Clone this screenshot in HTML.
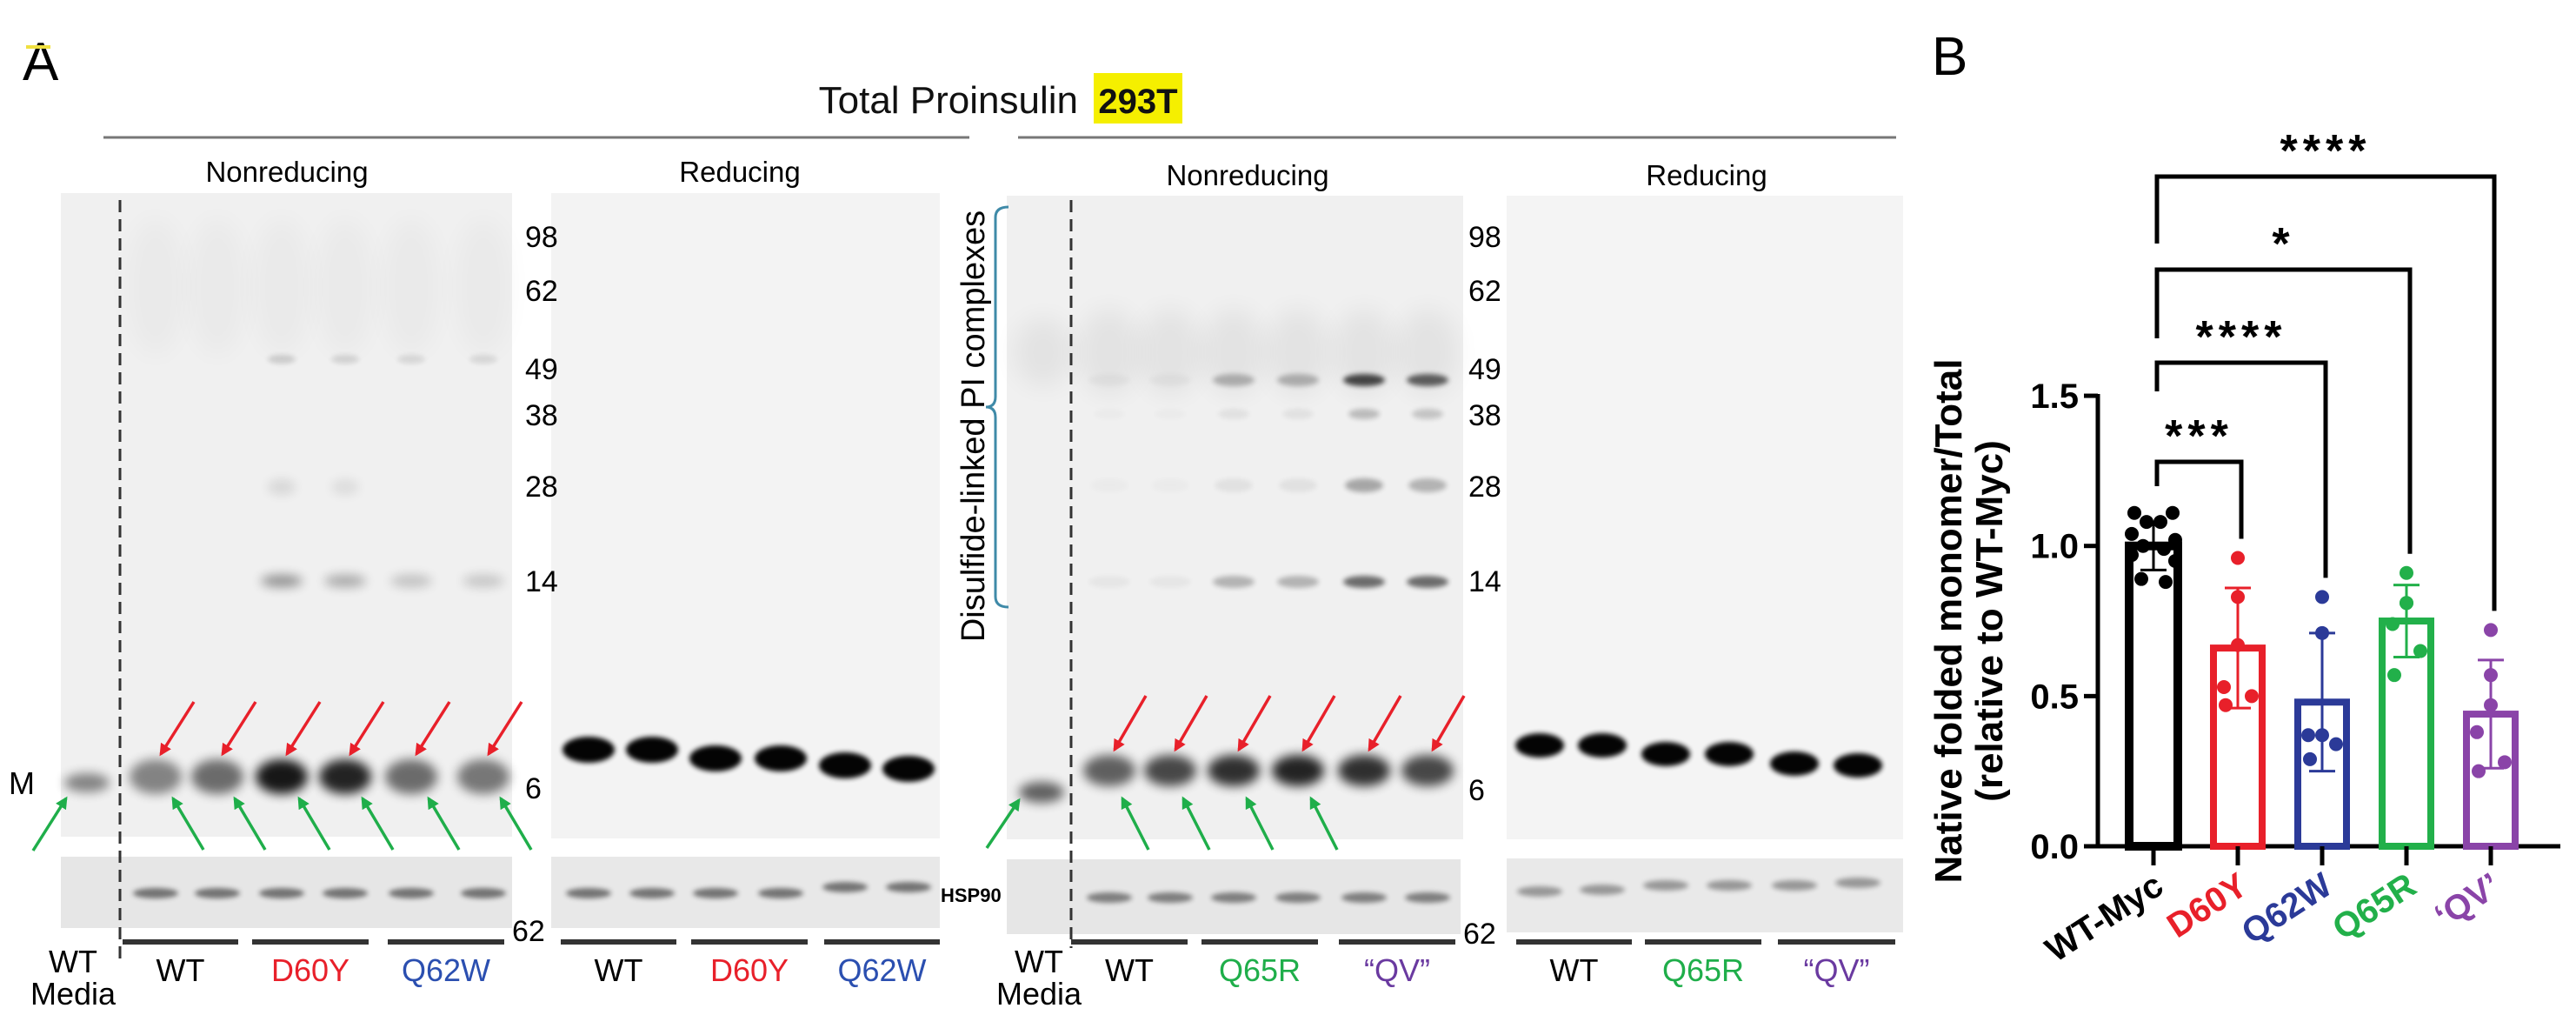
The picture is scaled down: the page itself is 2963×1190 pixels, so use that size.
<!DOCTYPE html>
<html><head><meta charset="utf-8">
<style>
html,body{margin:0;padding:0;background:#fff;}
body{width:2963px;height:1185px;overflow:hidden;position:relative;font-family:"Liberation Sans",Arial,sans-serif;}
svg text{font-family:"Liberation Sans",Arial,sans-serif;}
</style></head>
<body>
<svg id="fig" width="2963" height="1185" viewBox="0 0 2963 1185" xmlns="http://www.w3.org/2000/svg">
<defs>
  <filter id="b6" x="-50%" y="-100%" width="200%" height="300%"><feGaussianBlur stdDeviation="6"/></filter>
  <filter id="b3" x="-50%" y="-100%" width="200%" height="300%"><feGaussianBlur stdDeviation="3"/></filter>
  <filter id="b12" x="-50%" y="-50%" width="200%" height="200%"><feGaussianBlur stdDeviation="14"/></filter>
  <marker id="ar" viewBox="0 0 10 10" refX="8" refY="5" markerWidth="4" markerHeight="4" orient="auto"><path d="M0,0 L10,5 L0,10 z" fill="#e8202a"/></marker>
  <marker id="ag" viewBox="0 0 10 10" refX="8" refY="5" markerWidth="4" markerHeight="4" orient="auto"><path d="M0,0 L10,5 L0,10 z" fill="#1fae4a"/></marker>
</defs>

<text x="26" y="92" font-size="62" fill="#000">A</text>
<rect x="30" y="52" width="28" height="4" fill="#f0e040"/>
<text x="1240" y="130" font-size="44" text-anchor="end" fill="#111">Total Proinsulin</text>
<rect x="1258" y="84" width="102" height="58" fill="#f5ef00"/>
<text x="1309" y="130" font-size="40" font-weight="bold" text-anchor="middle" fill="#111">293T</text>
<line x1="119" y1="158" x2="1115" y2="158" stroke="#777" stroke-width="3"/>
<line x1="1171" y1="158" x2="2181" y2="158" stroke="#777" stroke-width="3"/>
<text x="330" y="209" font-size="33" text-anchor="middle">Nonreducing</text>
<text x="851" y="209" font-size="33" text-anchor="middle">Reducing</text>
<text x="1435" y="213" font-size="33" text-anchor="middle">Nonreducing</text>
<text x="1963" y="213" font-size="33" text-anchor="middle">Reducing</text>

<g id="blots"></g>

<path d="M1160,238 Q1145,238 1145,250 L1145,456 Q1145,468 1134,468 Q1145,468 1145,480 L1145,686 Q1145,698 1160,698" fill="none" stroke="#3f8aa8" stroke-width="3"/>
<text transform="translate(1132,490) rotate(-90)" font-size="38" text-anchor="middle">Disulfide-linked PI complexes</text>

<text x="2222" y="86" font-size="62" fill="#000">B</text>
<g id="chart"></g>
</svg>

<script>
const categories = ["WT-Myc","D60Y","Q62W","Q65R","\u2018QV\u2019"];
const barMeans = [1.00, 0.66, 0.48, 0.75, 0.44];
const barErr = [0.08, 0.20, 0.23, 0.12, 0.18];
const pointsWT = [1.11,1.11,1.08,1.08,1.04,1.02,1.00,0.99,0.97,0.95,0.89,0.88];
const pointsD60Y = [0.96,0.83,0.67,0.53,0.50,0.47];
const pointsQ62W = [0.83,0.71,0.37,0.37,0.34,0.29];
const pointsQ65R = [0.91,0.81,0.81,0.74,0.65,0.57];
const pointsQV = [0.72,0.57,0.47,0.38,0.28,0.25];
const yTicks = [0.0,0.5,1.0,1.5];
const yTickLabels = ["0.0","0.5","1.0","1.5"];
const sigLabels = ["***","****","*","****"];
const sigTargets = [1,2,3,4];

const colors = ["#000000","#e8202a","#2b3a98","#22b04a","#8a44a8"];
const allPoints = [pointsWT,pointsD60Y,pointsQ62W,pointsQ65R,pointsQV];
const NS="http://www.w3.org/2000/svg";
function mk(tag, attrs, parent){const e=document.createElementNS(NS,tag);for(const k in attrs)e.setAttribute(k,attrs[k]);parent.appendChild(e);return e;}

const axX0=2413, axX1=2945, y0px=973, pxPerUnit=345.3;
function yScale(v){return y0px - v*pxPerUnit;}
function xScale(i){return 2477 + i*97;}
const chart=document.getElementById('chart');

let el=mk('line',{x1:axX0,y1:yScale(1.5)-2,x2:axX0,y2:y0px+2,stroke:'#000','stroke-width':5},chart);


yTicks.forEach((t,i)=>{
  let tk=mk('line',{x1:axX0-16,y1:yScale(t),x2:axX0,y2:yScale(t),stroke:'#000','stroke-width':5},chart);
  
  
  let tl=mk('text',{x:axX0-22,y:yScale(t)+14,'font-size':40,'font-weight':'bold','text-anchor':'end'},chart);
  tl.textContent=yTickLabels[i];
  
  
});
el=mk('line',{x1:axX0-2,y1:y0px,x2:axX1,y2:y0px,stroke:'#000','stroke-width':5},chart);


let yt=mk('text',{transform:'translate(2256,714) rotate(-90)','font-size':44,'font-weight':'bold','text-anchor':'middle'},chart);
yt.textContent='Native folded monomer/Total';


let yt2=mk('text',{transform:'translate(2303,714) rotate(-90)','font-size':44,'font-weight':'bold','text-anchor':'middle'},chart);
yt2.textContent='(relative to WT-Myc)';



const bw=56;
categories.forEach((c,i)=>{
  const cx=xScale(i), col=colors[i];
  let b=mk('rect',{x:cx-bw/2,y:yScale(barMeans[i]),width:bw,height:y0px-yScale(barMeans[i]),fill:'#fff',stroke:col,'stroke-width':i==0?10:8},chart);
  
  
  let tk=mk('line',{x1:cx,y1:y0px,x2:cx,y2:y0px+22,stroke:'#000','stroke-width':5},chart);
  
  
  let lb=mk('text',{transform:`translate(${cx+14},${y0px+52}) rotate(-33)`,'font-size':40,'font-weight':'bold','text-anchor':'end',fill:col},chart);
  lb.textContent=c;
  
  
  const hi=yScale(barMeans[i]+barErr[i]), lo=yScale(barMeans[i]-barErr[i]);
  let eb=mk('path',{d:`M${cx},${hi}L${cx},${lo}M${cx-15},${hi}L${cx+15},${hi}M${cx-15},${lo}L${cx+15},${lo}`,stroke:col,'stroke-width':3,fill:'none'},chart);
  
  
  const pts=allPoints[i];
  const offs=i==0?[-22,22,-8,8,-25,25,-12,12,-25,25,-14,14]:[0,0,0,-16,16,-14];
  pts.forEach((v,j)=>{
    let p=mk('circle',{cx:cx+offs[j%offs.length],cy:yScale(v),r:8,fill:col},chart);
    
    
  });
});
const bracketLevels=[531,417,310,203];
sigTargets.forEach((t,k)=>{
  const x1=xScale(0)+4, x2=xScale(t)+4, ly=bracketLevels[k];
  const tgtTop=yScale(Math.max(...allPoints[t]))-22;
  const leftEnd=[559,450,389,280][k];
  let br=mk('path',{d:`M${x1},${leftEnd}L${x1},${ly}L${x2},${ly}L${x2},${tgtTop}`,stroke:'#000','stroke-width':5,fill:'none'},chart);
  
  
  let st=mk('text',{x:(x1+x2)/2,y:ly-12,'font-size':52,'font-weight':'bold','text-anchor':'middle','letter-spacing':'6'},chart);
  st.textContent=sigLabels[k];
  
  
});

const g=document.getElementById('blots');
function rect(x,y,w,h,fill,name){let r=mk('rect',{x:x,y:y,width:w,height:h,fill:fill},g);return r;}
rect(70,222,519,740,'#f0f0f0','gel-nonreducing-1');
rect(634,222,447,742,'#f3f3f3','gel-reducing-1');
rect(1158,225,525,740,'#f0f0f0','gel-nonreducing-2');
rect(1733,225,456,740,'#f4f4f4','gel-reducing-2');
rect(70,985,519,82,'#e6e6e6','hsp90-strip-1');
rect(634,985,447,82,'#e8e8e8','hsp90-strip-2');
rect(1158,988,522,86,'#e6e6e6','hsp90-strip-3');
rect(1733,987,456,85,'#e9e9e9','hsp90-strip-4');

function band(cx,cy,rx,ry,op,f,name){let e=mk('ellipse',{cx:cx,cy:cy,rx:rx,ry:ry,fill:'#000',opacity:op,filter:'url(#'+f+')'},g);}
const nr1=[179,250,324,397,473,556], r1=[677,750,823,898,972,1045];
const nr2=[1276,1346,1419,1493,1569,1642], r2=[1771,1843,1916,1989,2064,2137];
nr1.forEach(x=>band(x,330,34,80,0.025,'b12','smear'));
nr2.forEach(x=>band(x,405,36,50,0.05,'b12','smear'));
band(1200,405,34,40,0.05,'b12','smear');
band(100,900,26,11,0.45,'b6','media-band');
[0.45,0.55,0.9,0.85,0.55,0.5].forEach((o,i)=>band(nr1[i],893,30,20,o,'b6','monomer-band'));
[0.4,0.3,0.2,0.18].forEach((o,i)=>band(nr1[i+2],668,24,7,o,'b6','dimer-band'));
[0.15,0.12,0.1,0.1].forEach((o,i)=>band(nr1[i+2],413,16,5,o,'b3','band-49'));
[0.1,0.08].forEach((o,i)=>band(nr1[i+2],560,16,9,o,'b6','band-28'));
[862,862,872,872,880,884].forEach((y,i)=>band(r1[i],y,30,15,0.98,'b3','reduced-band'));
band(1198,911,26,12,0.6,'b6','media-band');
[0.6,0.7,0.8,0.85,0.8,0.7].forEach((o,i)=>band(nr2[i],886,30,18,o,'b6','monomer-band'));
[0.04,0.04,0.25,0.25,0.55,0.55].forEach((o,i)=>band(nr2[i],669,24,7,o,'b3','dimer-band'));
[0.03,0.03,0.25,0.25,0.7,0.6].forEach((o,i)=>band(nr2[i],437,24,7,o,'b3','band-49'));
[0.02,0.02,0.06,0.06,0.3,0.25].forEach((o,i)=>band(nr2[i],558,22,8,o,'b3','band-28'));
[0.02,0.02,0.06,0.06,0.22,0.18].forEach((o,i)=>band(nr2[i],476,18,6,o,'b3','band-38'));
[857,857,867,867,878,880].forEach((y,i)=>band(r2[i],y,28,14,0.98,'b3','reduced-band'));
nr1.forEach(x=>band(x,1027,26,6,0.5,'b3','hsp90-band'));
r1.forEach((x,i)=>band(x,i<4?1027:1020,26,6,0.5,'b3','hsp90-band'));
nr2.forEach(x=>band(x,1032,26,6,0.45,'b3','hsp90-band'));
r2.forEach((x,i)=>band(x,[1025,1023,1018,1018,1018,1015][i],26,6,0.35,'b3','hsp90-band'));

[[138,230,1105],[1232,230,1090]].forEach(d=>{let l=mk('line',{x1:d[0],y1:d[1],x2:d[0],y2:d[2],stroke:'#333','stroke-width':3,'stroke-dasharray':'14,8'},g);});

function arrow(x1,y1,x2,y2,col,m){let l=mk('line',{x1:x1,y1:y1,x2:x2,y2:y2,stroke:col,'stroke-width':3.5,'marker-end':'url(#'+m+')'},g);}
nr1.forEach(x=>arrow(x+44,807,x+6,867,'#e8202a','ar'));
nr2.forEach(x=>arrow(x+42,800,x+6,862,'#e8202a','ar'));
nr1.forEach(x=>arrow(x+55,977,x+20,918,'#1fae4a','ag'));
nr2.slice(0,4).forEach(x=>arrow(x+45,977,x+15,918,'#1fae4a','ag'));
arrow(38,978,76,918,'#1fae4a','ag');
arrow(1135,975,1172,920,'#1fae4a','ag');

function txt(x,y,s,size,anchor,fill,name,weight){let t=mk('text',{x:x,y:y,'font-size':size,'text-anchor':anchor||'start',fill:fill||'#000'},g);if(weight)t.setAttribute('font-weight',weight);t.textContent=s;}
const mwLabels=["98","62","49","38","28","14"], mwY=[284,346,436,489,571,680];
mwLabels.forEach((m,i)=>{txt(604,mwY[i],m,34,'start','#000','mw-label');txt(1689,mwY[i],m,34,'start','#000','mw-label');});
txt(604,918,'6',34,'start','#000','mw-label');
txt(1689,920,'6',34,'start','#000','mw-label');
txt(589,1082,'62',34,'start','#000','mw-label');
txt(1683,1085,'62',34,'start','#000','mw-label');
txt(1082,1037,'HSP90',22,'start','#000','hsp90-label','bold');
txt(10,913,'M',36,'start','#000','monomer-label');

const ul1=[[141,274],[290,424],[446,580],[645,778],[795,929],[948,1081]];
const ul2=[[1232,1366],[1382,1516],[1540,1674],[1744,1877],[1892,2026],[2045,2180]];
ul1.concat(ul2).forEach(u=>{let r=mk('rect',{x:u[0],y:1080,width:u[1]-u[0],height:6,fill:'#333'},g);});
const labs=[["WT","#000"],["D60Y","#e8202a"],["Q62W","#2b4fb0"],["WT","#000"],["D60Y","#e8202a"],["Q62W","#2b4fb0"]];
const labs2=[["WT","#000"],["Q65R","#1fae4a"],["\u201cQV\u201d","#6a3aa0"],["WT","#000"],["Q65R","#1fae4a"],["\u201cQV\u201d","#6a3aa0"]];
ul1.forEach((u,i)=>txt((u[0]+u[1])/2,1128,labs[i][0],36,'middle',labs[i][1],'lane-label'));
ul2.forEach((u,i)=>txt((u[0]+u[1])/2,1128,labs2[i][0],36,'middle',labs2[i][1],'lane-label'));
txt(84,1118,'WT',36,'middle','#000','media-label');
txt(84,1155,'Media',36,'middle','#000','media-label');
txt(1195,1118,'WT',36,'middle','#000','media-label');
txt(1195,1155,'Media',36,'middle','#000','media-label');
</script>
</body></html>
